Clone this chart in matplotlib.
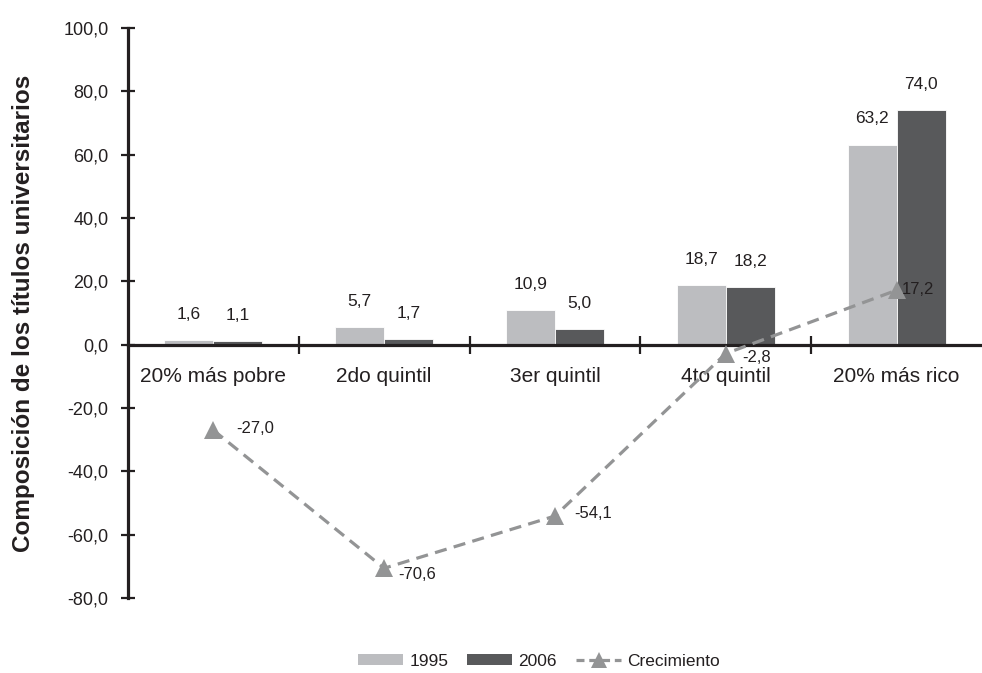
import numpy as np
import matplotlib
matplotlib.use('Agg')
import matplotlib.pyplot as plt
from matplotlib.patches import Patch
from matplotlib.lines import Line2D

plt.rcParams['font.family'] = ['Liberation Sans', 'DejaVu Sans']

# data
categorias = ['20% más pobre', '2do quintil', '3er quintil', '4to quintil', '20% más rico']
v1995 = [1.6, 5.7, 10.9, 18.7, 63.2]
v2006 = [1.1, 1.7, 5.0, 18.2, 74.0]
crecimiento = [-27.0, -70.6, -54.1, -2.8, 17.2]

# label offsets for the growth line (pixels)
offs = [(23, 2), (14, -6), (19, 3), (16, -4), (5, 1)]

c95 = '#bcbdc0'
c06 = '#58595b'
cline = '#939495'
ctext = '#231f20'

def fmt(v):
    return ('%.1f' % v).replace('.', ',')

fig = plt.figure(figsize=(9.82, 6.73), dpi=100)
ax = fig.add_axes([0.1303, 0.1114, 0.8697, 0.847])

x = np.arange(len(categorias))
w = 0.287
b1 = ax.bar(x - w / 2, v1995, w, color=c95, edgecolor='white', linewidth=0.6, zorder=2)
b2 = ax.bar(x + w / 2, v2006, w, color=c06, edgecolor='white', linewidth=0.6, zorder=2)
ax.bar_label(b1, labels=[fmt(v) for v in v1995], padding=13, fontsize=12.5, color=ctext)
ax.bar_label(b2, labels=[fmt(v) for v in v2006], padding=13, fontsize=12.5, color=ctext)

ax.plot(x, crecimiento, color=cline, lw=2.3, dashes=(3.8, 2.3), marker='^',
        markersize=13, markeredgewidth=0, zorder=4, clip_on=False)
for i, v in enumerate(crecimiento):
    ax.annotate(fmt(v), (x[i], v), xytext=offs[i], textcoords='offset pixels',
                ha='left', va='center', fontsize=12, color=ctext, zorder=5)

ax.set_xlim(-0.5, 4.5)
ax.set_ylim(-80, 100)
ax.set_yticks(np.arange(-80, 101, 20))
ax.set_yticklabels([fmt(v) for v in np.arange(-80, 101, 20)])

ax.spines['top'].set_visible(False)
ax.spines['right'].set_visible(False)
ax.spines['bottom'].set_position(('data', 0))
ax.spines['left'].set_linewidth(2.3)
ax.spines['bottom'].set_linewidth(2.3)
ax.spines['left'].set_color(ctext)
ax.spines['bottom'].set_color(ctext)

ax.set_xticks(x[:-1] + 0.5)
ax.set_xticklabels([])
ax.set_xticks(x, minor=True)
ax.set_xticklabels(categorias, minor=True)
ax.tick_params(axis='x', which='major', direction='inout', length=13, width=1.6, color=ctext)
ax.tick_params(axis='x', which='minor', length=0, pad=16, labelsize=15, labelcolor=ctext)
ax.tick_params(axis='y', direction='inout', length=10, width=1.6, color=ctext,
               pad=9, labelsize=13, labelcolor=ctext)

fig.text(0.024, 0.535, 'Composición de los títulos universitarios', rotation=90,
         ha='center', va='center', fontsize=17.5, fontweight='bold', color=ctext)

handles = [Patch(facecolor=c95), Patch(facecolor=c06),
           Line2D([0], [0], color=cline, lw=2.3, dashes=(2.5, 1.5), marker='^',
                  markersize=12, markeredgewidth=0)]
fig.legend(handles, ['1995', '2006', 'Crecimiento'], loc='center',
           bbox_to_anchor=(539 / 982, 12 / 673), ncol=3, frameon=False,
           fontsize=12.5, handlelength=2.6, handleheight=0.6, handletextpad=0.35,
           columnspacing=1.1, labelcolor=ctext)

fig.savefig('out.png', dpi=100)
